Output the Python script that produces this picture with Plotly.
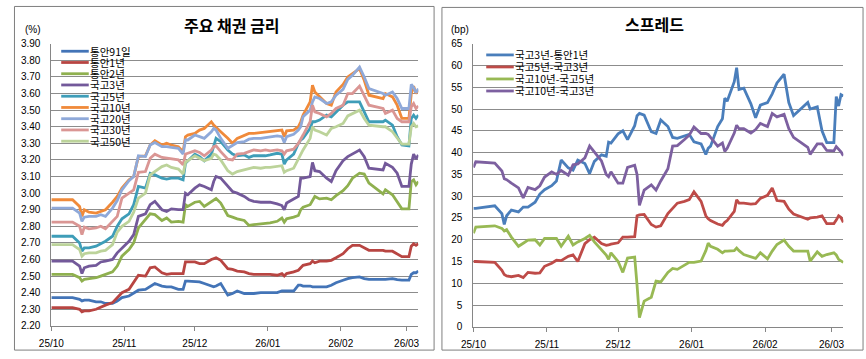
import plotly.graph_objects as go

# ---------------- data ----------------
dates = ["2025-10-01","2025-10-02","2025-10-10","2025-10-13","2025-10-14","2025-10-15","2025-10-17","2025-10-20","2025-10-22","2025-10-24","2025-10-27","2025-10-29","2025-10-31",
         "2025-11-03","2025-11-05","2025-11-07","2025-11-10","2025-11-12","2025-11-14","2025-11-17","2025-11-19","2025-11-21","2025-11-24","2025-11-26","2025-11-27","2025-11-28",
         "2025-12-01","2025-12-03","2025-12-05","2025-12-08","2025-12-09","2025-12-10","2025-12-12","2025-12-15","2025-12-17","2025-12-19","2025-12-22","2025-12-24","2025-12-26","2025-12-29","2025-12-31",
         "2026-01-02","2026-01-05","2026-01-07","2026-01-08","2026-01-09","2026-01-12","2026-01-14","2026-01-15","2026-01-16","2026-01-19","2026-01-20","2026-01-21","2026-01-23","2026-01-26","2026-01-28","2026-01-30",
         "2026-02-02","2026-02-04","2026-02-06","2026-02-09","2026-02-11","2026-02-13","2026-02-19","2026-02-20","2026-02-23","2026-02-25","2026-02-27",
         "2026-03-02","2026-03-03","2026-03-04","2026-03-05","2026-03-06"]

tick_dates = ["2025-10-01","2025-11-01","2025-12-01","2026-01-01","2026-02-01","2026-03-01"]
tick_labels = ["25/10","25/11","25/12","26/01","26/02","26/03"]

tb91 = [2.37,2.37,2.37,2.36,2.35,2.355,2.355,2.345,2.345,2.335,2.335,2.35,2.37,
        2.38,2.40,2.415,2.42,2.44,2.455,2.44,2.435,2.435,2.42,2.42,2.47,2.47,
        2.465,2.465,2.455,2.44,2.435,2.44,2.455,2.385,2.395,2.41,2.395,2.395,2.395,2.40,2.40,
        2.40,2.40,2.41,2.41,2.41,2.41,2.445,2.445,2.44,2.44,2.435,2.435,2.435,2.435,2.445,2.46,
        2.475,2.485,2.49,2.495,2.485,2.48,2.48,2.48,2.485,2.478,2.476,
        2.476,2.51,2.52,2.52,2.53]
ms1 = [2.31,2.31,2.31,2.30,2.285,2.29,2.29,2.30,2.315,2.325,2.34,2.37,2.40,
       2.42,2.46,2.505,2.50,2.55,2.555,2.52,2.51,2.515,2.515,2.515,2.585,2.585,
       2.585,2.575,2.575,2.60,2.605,2.61,2.595,2.545,2.54,2.53,2.525,2.515,2.51,2.51,2.51,
       2.51,2.505,2.515,2.50,2.515,2.525,2.535,2.55,2.565,2.575,2.59,2.58,2.59,2.59,2.595,2.61,
       2.635,2.665,2.685,2.685,2.67,2.655,2.655,2.65,2.65,2.635,2.617,
       2.617,2.68,2.695,2.685,2.695]
ms2 = [2.51,2.51,2.51,2.49,2.47,2.48,2.485,2.49,2.50,2.51,2.525,2.56,2.62,
       2.66,2.70,2.79,2.845,2.875,2.87,2.835,2.85,2.825,2.83,2.825,2.93,2.92,
       2.945,2.95,2.92,2.95,2.96,2.967,2.94,2.865,2.855,2.845,2.835,2.805,2.81,2.815,2.82,
       2.82,2.83,2.85,2.825,2.845,2.855,2.865,2.90,2.915,2.93,2.96,2.98,2.965,2.97,2.96,2.985,
       3.015,3.045,3.09,3.12,3.115,3.06,2.995,3.02,2.99,2.95,2.905,
       2.905,3.07,3.08,3.05,3.07]
ktb3 = [2.59,2.59,2.59,2.56,2.515,2.55,2.56,2.565,2.585,2.59,2.60,2.64,2.67,
        2.71,2.75,2.86,2.875,2.93,2.95,2.90,2.89,2.905,2.90,2.90,3.00,2.99,
        3.03,3.05,3.04,3.02,3.07,3.10,3.09,3.04,3.01,3.00,2.98,2.96,2.95,2.945,2.945,
        2.945,2.935,2.925,2.90,2.94,2.965,2.98,3.09,3.09,3.10,3.185,3.135,3.13,3.09,3.07,3.135,
        3.195,3.22,3.235,3.26,3.22,3.15,3.14,3.18,3.155,3.12,3.04,
        3.04,3.175,3.235,3.205,3.23]
ktb5 = [2.74,2.74,2.74,2.70,2.65,2.67,2.67,2.68,2.695,2.71,2.74,2.80,2.845,
        2.875,2.93,3.04,3.03,3.12,3.11,3.09,3.085,3.09,3.09,3.08,3.18,3.195,
        3.235,3.22,3.195,3.235,3.29,3.33,3.31,3.26,3.235,3.225,3.23,3.215,3.225,3.225,3.225,
        3.23,3.24,3.235,3.175,3.20,3.235,3.30,3.32,3.33,3.39,3.43,3.43,3.44,3.47,3.46,3.49,
        3.53,3.55,3.55,3.55,3.49,3.43,3.43,3.44,3.41,3.34,3.29,
        3.285,3.45,3.47,3.45,3.47]
ktb10 = [2.96,2.96,2.96,2.92,2.86,2.90,2.885,2.88,2.89,2.90,2.945,2.98,3.03,
         3.08,3.10,3.22,3.225,3.29,3.315,3.29,3.30,3.29,3.28,3.25,3.34,3.35,
         3.36,3.38,3.39,3.43,3.41,3.395,3.37,3.33,3.30,3.33,3.35,3.36,3.36,3.365,3.37,
         3.37,3.375,3.38,3.34,3.375,3.38,3.40,3.43,3.47,3.55,3.65,3.61,3.58,3.54,3.53,3.61,
         3.655,3.70,3.72,3.75,3.68,3.59,3.57,3.60,3.58,3.53,3.45,
         3.45,3.60,3.645,3.60,3.62]
ktb20 = [2.91,2.91,2.91,2.88,2.83,2.855,2.86,2.86,2.87,2.86,2.91,2.955,3.02,
         3.075,3.10,3.225,3.22,3.29,3.305,3.28,3.28,3.275,3.27,3.235,3.32,3.32,
         3.35,3.34,3.33,3.37,3.39,3.38,3.33,3.27,3.29,3.305,3.31,3.325,3.33,3.33,3.335,
         3.34,3.345,3.34,3.305,3.34,3.355,3.38,3.40,3.46,3.50,3.55,3.58,3.57,3.54,3.55,3.59,
         3.625,3.685,3.71,3.76,3.70,3.63,3.60,3.59,3.61,3.57,3.51,
         3.51,3.655,3.635,3.605,3.63]
ktb30 = [2.825,2.825,2.825,2.80,2.75,2.795,2.785,2.79,2.80,2.785,2.83,2.86,2.97,
         3.00,3.02,3.125,3.13,3.21,3.235,3.215,3.21,3.205,3.20,3.17,3.235,3.24,
         3.255,3.245,3.225,3.26,3.28,3.285,3.25,3.205,3.20,3.235,3.24,3.25,3.26,3.255,3.26,
         3.255,3.26,3.255,3.235,3.255,3.265,3.30,3.33,3.35,3.43,3.53,3.49,3.48,3.46,3.48,3.51,
         3.53,3.60,3.60,3.645,3.59,3.53,3.51,3.48,3.50,3.45,3.43,
         3.43,3.52,3.54,3.51,3.525]
ktb50 = [2.69,2.69,2.69,2.66,2.62,2.635,2.64,2.64,2.65,2.655,2.69,2.765,2.80,
         2.83,2.885,2.97,3.00,3.11,3.13,3.16,3.17,3.155,3.145,3.115,3.185,3.195,
         3.225,3.21,3.195,3.21,3.235,3.23,3.20,3.135,3.115,3.13,3.14,3.145,3.155,3.15,3.155,
         3.155,3.16,3.165,3.125,3.135,3.15,3.205,3.235,3.26,3.33,3.40,3.38,3.37,3.35,3.39,3.40,
         3.42,3.465,3.48,3.50,3.45,3.41,3.40,3.40,3.37,3.33,3.295,
         3.295,3.40,3.42,3.40,3.405]

sp_3y_1y = [27.2,27.2,27.8,26.0,23.5,25.5,26.8,26.4,27.5,27.5,28.6,30.5,31.5,
            32.4,33.5,38.3,36.5,36.0,38.3,37.5,35.2,38.0,39.5,39.2,42.4,42.2,
            44.3,45.0,43.0,46.2,48.5,49.0,48.6,44.8,44.4,47.5,46.0,43.5,43.3,43.8,44.2,
            42.5,42.0,39.6,41.0,41.5,46.0,47.8,52.5,51.8,56.3,59.5,54.5,54.8,51.2,48.0,50.9,
            51.5,53.5,56.0,58.0,51.5,48.5,51.5,50.0,50.5,45.0,42.3,
            42.3,52.9,50.7,53.3,53.0]
sp_5y_3y = [15.0,15.0,14.8,13.0,12.0,11.7,11.5,11.8,11.3,12.5,12.3,12.4,13.9,
            14.6,15.3,15.2,16.2,16.5,15.0,19.1,20.0,20.6,19.1,18.7,18.8,19.0,
            19.3,20.6,20.6,20.7,25.5,25.7,25.8,23.5,22.9,23.2,26.0,27.3,28.4,28.8,29.2,
            31.0,28.8,25.5,24.8,24.4,23.6,23.3,24.0,24.4,26.5,29.2,28.4,28.4,28.2,28.3,29.5,
            30.2,31.9,29.0,28.8,27.0,25.9,24.7,25.0,25.2,25.5,23.7,
            23.7,24.5,25.5,25.1,24.0]
sp_10y_5y = [21.5,22.9,23.2,22.6,22.0,22.3,20.6,18.5,19.2,19.9,20.0,18.8,20.3,
             20.3,20.3,18.5,20.8,18.8,19.5,20.3,21.0,19.5,17.8,16.5,15.5,17.0,
             15.0,12.5,15.8,16.0,9.6,2.1,5.9,6.8,10.5,10.3,12.5,13.4,13.2,14.2,14.8,
             14.8,15.1,17.5,19.2,18.5,17.8,17.0,17.4,17.4,17.5,18.1,17.5,16.6,16.0,15.7,17.0,
             15.6,17.4,18.9,19.9,18.5,17.4,17.4,15.1,17.2,16.2,16.6,
             17.0,16.5,15.5,15.2,14.8]
sp_10y_3y = [36.6,37.9,37.6,35.8,34.0,33.8,33.0,31.9,29.6,32.0,31.5,32.4,34.4,
             35.6,35.0,35.9,34.8,37.2,37.4,38.8,41.5,40.2,38.1,35.0,34.5,35.6,
             33.0,33.0,36.6,37.1,35.0,27.9,31.4,32.6,31.4,33.5,36.3,41.5,41.6,43.0,44.0,
             45.9,44.4,44.4,44.2,43.5,41.5,42.2,40.3,41.0,44.5,46.3,45.5,45.5,44.5,45.3,46.7,
             46.0,49.0,48.2,48.8,45.5,43.5,41.2,39.6,42.0,42.0,40.5,
             40.4,41.4,40.8,40.2,39.3]

rate_names = ["통안91일","통안1년","통안2년","국고3년","국고5년","국고10년","국고20년","국고30년","국고50년"]
rate_values = [tb91, ms1, ms2, ktb3, ktb5, ktb10, ktb20, ktb30, ktb50]
rate_colors = ["#4374B7","#B84542","#8FB04F","#73599A","#3E9DB8","#F08A3A","#8FA9D9","#DA9694","#BCD39A"]

spread_names = ["국고3년-통안1년","국고5년-국고3년","국고10년-국고5년","국고10년-국고3년"]
spread_values = [sp_3y_1y, sp_5y_3y, sp_10y_5y, sp_10y_3y]
spread_colors = ["#4A7EBB","#BE4B48","#98B954","#7D60A0"]

# ---------------- layout helpers ----------------
W, H = 866, 359
def fx(px):
    return px / W
def fy(py):
    return 1 - py / H

FONT = "Noto Sans CJK KR"
TICKFONT = dict(family="Liberation Sans", size=10, color="#000000")
GRID = "#8C8C8C"
AXIS = "#868686"
LW = 2.8

fig = go.Figure()
for n, v, c in zip(rate_names, rate_values, rate_colors):
    fig.add_trace(go.Scatter(x=dates, y=v, name=n, mode="lines",
                             line=dict(color=c, width=LW), xaxis="x", yaxis="y"))
for n, v, c in zip(spread_names, spread_values, spread_colors):
    fig.add_trace(go.Scatter(x=dates, y=v, name=n, mode="lines",
                             line=dict(color=c, width=LW), xaxis="x2", yaxis="y2"))

xr = ["2025-10-01", "2026-03-06"]
xcommon = dict(type="date", range=xr, tickmode="array", tickvals=tick_dates, ticktext=tick_labels,
               showgrid=False, showline=True, linecolor=AXIS, linewidth=1, ticks="outside",
               ticklen=4, tickcolor=AXIS, tickfont=TICKFONT, zeroline=False, fixedrange=True,
               ticklabelstandoff=4)
ycommon = dict(showgrid=True, gridcolor=GRID, gridwidth=1, showline=True, linecolor=AXIS,
               linewidth=1, ticks="", tickfont=TICKFONT, zeroline=False, ticklabelstandoff=8,
               fixedrange=True)

fig.update_layout(
    width=W, height=H, margin=dict(l=0, r=0, t=0, b=0),
    paper_bgcolor="white", plot_bgcolor="white", showlegend=False,
    xaxis=dict(domain=[fx(39), fx(412)], anchor="y", **xcommon),
    yaxis=dict(domain=[fy(331), fy(40)], anchor="x", range=[2.2, 3.9], tick0=2.2, dtick=0.1,
               tickformat=".2f", **ycommon),
    xaxis2=dict(domain=[fx(468), fx(844)], anchor="y2", **xcommon),
    yaxis2=dict(domain=[fy(332), fy(40)], anchor="x2", range=[0, 65], tick0=0, dtick=5, **ycommon),
)

shapes = []
annotations = []
# panel borders
shapes.append(dict(type="rect", xref="paper", yref="paper", x0=fx(1.5), x1=fx(428), y0=fy(356), y1=fy(1.5),
                   line=dict(color="#7F7F7F", width=1), fillcolor="rgba(0,0,0,0)"))
shapes.append(dict(type="rect", xref="paper", yref="paper", x0=fx(436), x1=fx(864), y0=fy(356), y1=fy(2.5),
                   line=dict(color="#7F7F7F", width=1), fillcolor="rgba(0,0,0,0)"))

# titles
annotations.append(dict(text="<b>주요 채권 금리</b>", x=fx(223), y=fy(21), xref="paper", yref="paper",
                        showarrow=False, xanchor="center", yanchor="middle",
                        font=dict(family=FONT, size=16, color="#000")))
annotations.append(dict(text="<b>스프레드</b>", x=fx(652), y=fy(20), xref="paper", yref="paper",
                        showarrow=False, xanchor="center", yanchor="middle",
                        font=dict(family=FONT, size=16, color="#000")))
annotations.append(dict(text="(%)", x=fx(20), y=fy(25), xref="paper", yref="paper", showarrow=False,
                        xanchor="center", yanchor="middle", font=dict(family="Liberation Sans", size=10, color="#000")))
annotations.append(dict(text="(bp)", x=fx(454), y=fy(25), xref="paper", yref="paper", showarrow=False,
                        xanchor="center", yanchor="middle", font=dict(family="Liberation Sans", size=10, color="#000")))

# manual legends (tight Excel-like spacing)
for i, (n, c) in enumerate(zip(rate_names, rate_colors)):
    yy = 47.7 + 11.6 * i
    shapes.append(dict(type="line", xref="paper", yref="paper", x0=fx(49), x1=fx(77), y0=fy(yy), y1=fy(yy),
                       line=dict(color=c, width=LW)))
    annotations.append(dict(text=n, x=fx(77), y=fy(yy), xref="paper", yref="paper", showarrow=False,
                            xanchor="left", yanchor="middle", borderpad=0,
                            font=dict(family=FONT, size=10.5, color="#000")))
for i, (n, c) in enumerate(zip(spread_names, spread_colors)):
    yy = 51.5 + 12.4 * i
    shapes.append(dict(type="line", xref="paper", yref="paper", x0=fx(481), x1=fx(509), y0=fy(yy), y1=fy(yy),
                       line=dict(color=c, width=LW)))
    annotations.append(dict(text=n, x=fx(509), y=fy(yy), xref="paper", yref="paper", showarrow=False,
                            xanchor="left", yanchor="middle", borderpad=0,
                            font=dict(family=FONT, size=10.5, color="#000")))

fig.update_layout(shapes=shapes, annotations=annotations)

fig.write_html("out.html", config={"displayModeBar": False},
               post_script="document.body.style.margin='0';")
